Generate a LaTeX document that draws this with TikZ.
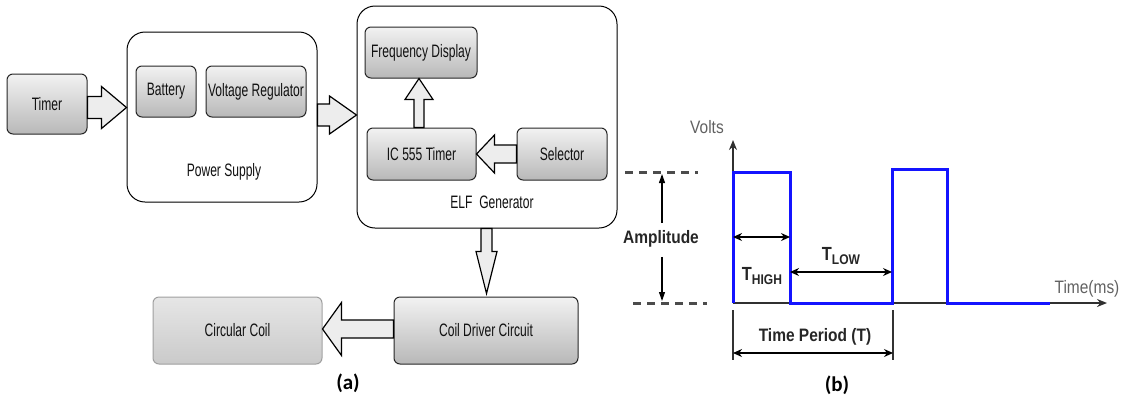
\documentclass[tikz,border=0pt]{standalone}
\usepackage{fontspec}
\setmainfont{Liberation Sans}
\newfontfamily\narrowfont[FakeStretch=0.67]{Liberation Sans}
\newfontfamily\graphfont[FakeStretch=0.86]{Liberation Sans}
\newfontfamily\capfont{Carlito}
\usetikzlibrary{calc,arrows.meta}
\definecolor{boxtop}{HTML}{F2F2F2}
\definecolor{boxbot}{HTML}{B8B8B8}
\definecolor{ltop}{HTML}{E6E6E6}
\definecolor{lbot}{HTML}{CACACA}
\definecolor{arrfill}{HTML}{EDEDED}
\definecolor{txt}{HTML}{111111}
\definecolor{wblue}{HTML}{1414FF}
\definecolor{axcol}{HTML}{303030}
\tikzset{
  blk/.style={draw=black!85, line width=1pt, rounded corners=6pt, top color=boxtop, bottom color=boxbot,
    font=\narrowfont\fontsize{18}{20}\selectfont, text=txt, inner sep=0pt},
  lightblk/.style={blk, draw=gray!75, top color=ltop, bottom color=lbot},
  container/.style={draw=black, line width=1pt, rounded corners=18pt, fill=white, inner sep=0pt},
  clabel/.style={font=\narrowfont\fontsize{18}{20}\selectfont, text=txt},
  barrow/.style={draw=black, line width=1.2pt, fill=arrfill, line join=miter},
  axisline/.style={draw=axcol, line width=1.6pt, -{Stealth[length=10pt,width=8pt]}},
  wave/.style={draw=wblue, line width=3pt, line join=miter},
  ampdash/.style={draw=black!70, line width=3pt, dash pattern=on 8pt off 6pt},
  glabel/.style={font=\graphfont\fontsize{18}{20}\selectfont, text=black!62},
  blabel/.style={font=\graphfont\bfseries\fontsize{18}{20}\selectfont, text=black!85},
  dimarrow/.style={draw=black, line width=1.3pt, {Stealth[length=9pt,width=8pt]}-{Stealth[length=9pt,width=8pt]}},
  amparrow/.style={draw=black, line width=1.1pt, -{Triangle[length=9pt,width=6pt]}},
  tickline/.style={draw=black!80, line width=2.4pt},
  caption/.style={font=\capfont\bfseries\fontsize{21}{23}\selectfont},
}
% block arrows: #1 start, #2 tip, #3 shaft half width, #4 head half width, #5 head length
\newcommand{\arrR}[5]{\draw[barrow] ($(#1)+(0,-#3)$) -- ($(#2)+(-#5,-#3)$) -- ($(#2)+(-#5,-#4)$) -- (#2) -- ($(#2)+(-#5,#4)$) -- ($(#2)+(-#5,#3)$) -- ($(#1)+(0,#3)$) -- cycle;}
\newcommand{\arrL}[5]{\draw[barrow] ($(#1)+(0,-#3)$) -- ($(#2)+(#5,-#3)$) -- ($(#2)+(#5,-#4)$) -- (#2) -- ($(#2)+(#5,#4)$) -- ($(#2)+(#5,#3)$) -- ($(#1)+(0,#3)$) -- cycle;}
\newcommand{\arrU}[5]{\draw[barrow] ($(#1)+(-#3,0)$) -- ($(#2)+(-#3,#5)$) -- ($(#2)+(-#4,#5)$) -- (#2) -- ($(#2)+(#4,#5)$) -- ($(#2)+(#3,#5)$) -- ($(#1)+(#3,0)$) -- cycle;}
\newcommand{\arrD}[5]{\draw[barrow] ($(#1)+(-#3,0)$) -- ($(#2)+(-#3,-#5)$) -- ($(#2)+(-#4,-#5)$) -- (#2) -- ($(#2)+(#4,-#5)$) -- ($(#2)+(#3,-#5)$) -- ($(#1)+(#3,0)$) -- cycle;}
\begin{document}
\begin{tikzpicture}[x=1pt,y=-1pt]
\useasboundingbox (0,0) rectangle (1126,397);
% containers
\node[container, minimum width=190pt, minimum height=170pt] (ps) at (222,117) {};
\node[container, minimum width=260pt, minimum height=222pt] (elf) at (487,117) {};
\node[clabel] (pslbl) at (224,172) {Power Supply};
\node[clabel] (elflbl) at (492,202) {ELF~ Generator};
% blocks
\node[blk, minimum width=80pt, minimum height=60pt] (timer) at (47,104) {Timer};
\node[blk, minimum width=60pt, minimum height=51pt] (bat) at (166,91.5) {Battery};
\node[blk, minimum width=100pt, minimum height=51pt] (vreg) at (256,91.5) {Voltage Regulator};
\node[blk, minimum width=112pt, minimum height=51pt] (fd) at (421,52.5) {Frequency Display};
\node[blk, minimum width=109pt, minimum height=52pt] (ic) at (421.5,154) {IC 555 Timer};
\node[blk, minimum width=90pt, minimum height=52pt] (sel) at (562,154) {Selector};
\node[blk, minimum width=184pt, minimum height=67pt] (cd) at (486,330.5) {Coil Driver Circuit};
\node[lightblk, minimum width=169pt, minimum height=67pt] (cc) at (237.5,330.5) {Circular Coil};
% block arrows
\coordinate (y1) at (0,107.5);
\coordinate (y2) at (0,115);
\coordinate (x3) at (419,0);
\coordinate (y4) at (0,154);
\coordinate (x5) at (486.5,0);
\coordinate (t5) at ($(cd.north -| x5)+(0,-3)$);
\coordinate (y6) at (0,329);
\arrR{timer.east |- y1}{ps.west |- y1}{11}{21}{25}
\arrR{ps.east |- y2}{elf.west |- y2}{11}{19}{27}
\arrU{ic.north -| x3}{fd.south -| x3}{5}{14}{21}
\arrL{sel.west |- y4}{ic.east |- y4}{9}{19}{18}
\arrD{elf.south -| x5}{t5}{5.5}{10.5}{42}
\arrL{cd.west |- y6}{cc.east |- y6}{9}{26.5}{19}
\node[caption] (capa) at (348,383) {(a)};
% ---------- waveform (b) ----------
\coordinate (O) at (733,303);
\coordinate (vtop) at (733,140);
\coordinate (tend) at (1107,303);
\draw[axisline] (O) -- (vtop);
\draw[axisline] (O) -- (tend);
\node[glabel] (volts) at (707,127) {Volts};
\node[glabel] (timems) at (1087,289) {Time(ms)};
\draw[wave] (733,303) -- (733,172) -- (790,172) -- (790,303) -- (892,303) -- (892,169) -- (947,169) -- (947,303) -- (1050,303);
\draw[ampdash] (625,172) -- (698,172);
\draw[ampdash] (633,303) -- (707,303);
\node[blabel] (amp) at (661,239) {Amplitude};
\coordinate (ampt) at (662,174);
\coordinate (ampb) at (662,301);
\draw[amparrow] (amp.north -| ampt) ++(0,-4) -- (ampt);
\draw[amparrow] (amp.south -| ampb) ++(0,6) -- (ampb);
\coordinate (h1) at (733,237);
\coordinate (h2) at (790,237);
\draw[dimarrow] (h1) -- (h2);
\coordinate (l1) at (790,272);
\coordinate (l2) at (892,272);
\draw[dimarrow] (l1) -- (l2);
\node[blabel, anchor=base] (thigh) at (762,280) {{\fontsize{19}{19}\selectfont T}\raisebox{-4pt}{\fontsize{14}{14}\selectfont HIGH}};
\node[blabel, anchor=base] (tlow) at (841,260) {{\fontsize{19}{19}\selectfont T}\raisebox{-4pt}{\fontsize{14}{14}\selectfont LOW}};
\coordinate (p1a) at (733,310);
\coordinate (p1b) at (733,360);
\coordinate (p2a) at (893,310);
\coordinate (p2b) at (893,360);
\draw[tickline] (p1a) -- (p1b);
\draw[tickline] (p2a) -- (p2b);
\coordinate (tp1) at (733,353);
\coordinate (tp2) at (893,353);
\draw[dimarrow] (tp1) -- (tp2);
\node[blabel] (tper) at (815,337) {Time Period (T)};
\node[caption] (capb) at (837,385) {(b)};
\end{tikzpicture}
\end{document}
